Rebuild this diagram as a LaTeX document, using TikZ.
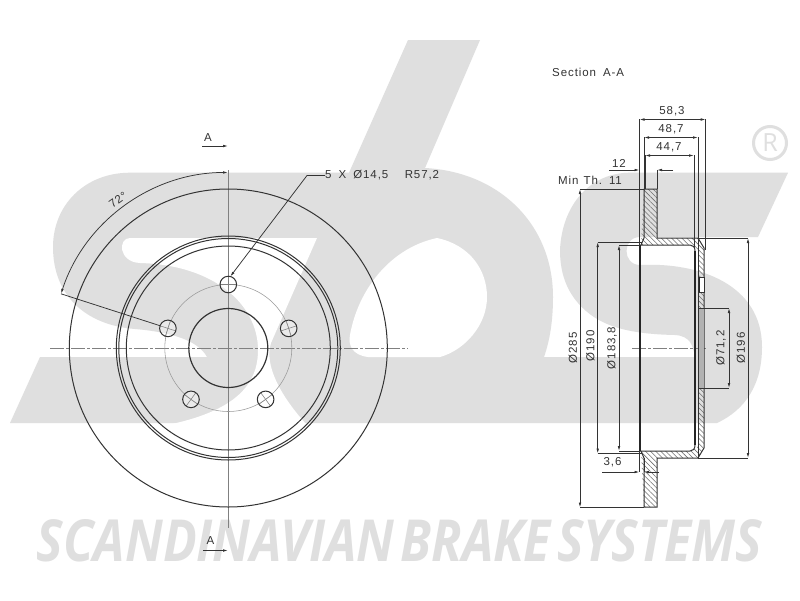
\documentclass[tikz,border=0pt]{standalone}
\usepackage{fontspec}
\setmainfont{Liberation Sans}
\newfontfamily\cad[LetterSpace=8]{Liberation Sans}
\newfontfamily\wm{Open Sans}
\usetikzlibrary{arrows.meta,patterns.meta,calc}
\definecolor{wmgray}{HTML}{DFDFDF}
\definecolor{ink}{HTML}{333333}
\definecolor{thin}{HTML}{808080}
\tikzset{
  lab/.style={font=\cad\fontsize{11.5}{12}\selectfont,text=ink,inner sep=0pt},
  dim/.style={draw=ink,line width=.75pt},
  dimboth/.style={dim,{Latex[length=5pt,width=2.6pt]}-{Latex[length=5pt,width=2.6pt]}},
  dimend/.style={dim,-{Latex[length=5pt,width=2.6pt]}},
  edge/.style={draw=ink,line width=1pt},
  heavy/.style={draw=black!85,line width=1.5pt},
  centre/.style={draw=thin,line width=.55pt},
  cdash/.style={draw=thin,line width=.7pt,dash pattern=on 14pt off 2pt on 3pt off 2pt},
  hatch/.style={pattern={Lines[angle=-45,distance=3.6pt,line width=.55pt]},pattern color=ink!70},
}
\begin{document}
\begin{tikzpicture}[x=1pt,y=-1pt]
\useasboundingbox (0,0) rectangle (800,600);
\fill[white] (0,0) rectangle (800,600);
% ---- watermark logo
\fill[wmgray] (10,423) -- (40,357) -- (207,357)
  .. controls (198,340) and (170,332) .. (135,329)
  .. controls (85,325) and (53,295) .. (53,247)
  .. controls (53,205) and (85,172.7) .. (130,172.7)
  -- (349,172.7) -- (408,40) -- (480,40) -- (425,168)
  .. controls (500,172) and (553,225) .. (553,297)
  .. controls (553,320) and (550,340) .. (544,357)
  -- (695,357) .. controls (693,345) and (690,336) .. (675,335)
  .. controls (625,334) and (597,325) .. (578,303)
  .. controls (565,288) and (560,270) .. (560,250)
  .. controls (562,205) and (590,172.7) .. (630,172.7)
  -- (788,172.7) -- (758,237) -- (640,237)
  .. controls (622,237) and (622,265) .. (640,265)
  .. controls (700,262) and (762,285) .. (762,347)
  .. controls (762,385) and (745,410) .. (717,423) -- cycle;
\fill[white] (130,238) -- (317,238) -- (271,343)
  .. controls (264,365) and (280,395) .. (306,424)
  -- (172,424) .. controls (235,410) and (258,385) .. (258,350)
  .. controls (258,305) and (215,265) .. (140,263)
  .. controls (118,262) and (118,238) .. (130,238) -- cycle;
\fill[white] (437,238) .. controls (470,245) and (487,270) .. (487,297)
  .. controls (487,325) and (465,350) .. (440,357)
  -- (368,357) .. controls (352,355) and (348,345) .. (350,335)
  .. controls (358,290) and (390,248) .. (437,238) -- cycle;
% registered mark
\node[circle,draw=wmgray,line width=3pt,minimum size=33pt,inner sep=0pt,
  font=\wm\fontsize{25}{25}\selectfont,text=wmgray] (reg) at (770,143) {R};
% brand line
\node[text=wmgray,inner sep=0pt] (brand) at (399.5,541)
  {\resizebox{725pt}{42pt}{\wm\bfseries\itshape SCANDINAVIAN\hspace{.12em}BRAKE\hspace{.12em}SYSTEMS}};

% ---- front view
\coordinate (c) at (228.3,348);
\draw[cdash] (50,348) -- (408,348);
\draw[centre] (228.3,170) -- (228.3,528);
\draw[edge] (c) circle[radius=159pt];
\draw[edge] (c) circle[radius=112pt];
\draw[edge] (c) circle[radius=109.5pt];
\draw[edge] (c) circle[radius=102pt];
\draw[edge,line width=1.2pt] (c) circle[radius=39.5pt];
\draw[centre,draw=thin!80] (c) circle[radius=63.5pt];
\begin{scope}[shift={(c)}]
\foreach \a/\n in {90/a,162/b,234/d,306/e,18/f}{
  \coordinate (bolt\n) at (\a:63.5pt);
  \fill[white,opacity=.35] (bolt\n) circle[radius=8.3pt];
  \draw[centre] ($(bolt\n)+(\a:8.3pt)$) -- ($(bolt\n)+(\a+180:8.3pt)$);
  \draw[centre] ($(bolt\n)+(\a+90:8.3pt)$) -- ($(bolt\n)+(\a+270:8.3pt)$);
  \draw[edge] (bolt\n) circle[radius=8.3pt];
}
\end{scope}
% 72 degree dimension
\coordinate (angA) at (61,293.8);
\draw[dim] (angA) -- ($(boltb)+(-8,-2.7)$);
\draw[dimboth] (angA) arc[start angle=162,end angle=90,radius=175.6pt];
\node[lab,rotate=36] (ang) at (118,200) {72°};
% bolt leader
\coordinate (knee) at (307,175.5);
\node[lab,anchor=west] (bolts) at (325,175.5) {5\hspace{7pt}X\hspace{7pt}Ø14,5\hspace{16.5pt}R57,2};
\draw[dimend] (bolts.west) -- (knee) -- ($(bolta)+(2,-8)$);
% section arrows
\node[lab] (aT) at (208,138) {A};
\coordinate (aTa) at (202,146); \coordinate (aTb) at (228,146);
\draw[dimend] (aTa) -- (aTb);
\node[lab] (aB) at (210.5,541) {A};
\coordinate (aBa) at (203,550.5); \coordinate (aBb) at (228,550.5);
\draw[dimend] (aBa) -- (aBb);

% ---- section view
\node[lab,anchor=west] (sec) at (552,72.5) {Section\hspace{7pt}A-A};
\draw[cdash] (632,348) -- (706,348);
% hatched metal
\path[hatch] (644,189) -- (657,189) -- (657,238) -- (698,238) -- (704,248) -- (704,308)
  -- (698,308) -- (698,250) -- (692,245) -- (641,245) -- cycle;
\path[hatch] (644,507) -- (657,507) -- (657,458) -- (698,458) -- (704,448) -- (704,388)
  -- (698,388) -- (698,446) -- (692,451) -- (641,451) -- cycle;
\draw[edge] (641,245) -- (644,238) -- (644,189) -- (657,189) -- (657,238) -- (698,238) -- (704,248) -- (704,448);
\draw[edge] (641,451) -- (644,458) -- (644,507) -- (657,507) -- (657,458) -- (698,458) -- (704,448);
\draw[edge] (640,245) -- (690,245) .. controls (693,245) and (695,247) .. (695,251);
\draw[edge] (640,451) -- (690,451) .. controls (693,451) and (695,449) .. (695,445);
\draw[heavy] (640,245) -- (640,451);
\draw[heavy] (695,251) -- (695,445);
\draw[edge] (698,238) -- (698,458);
\fill[black!30] (698.5,308) rectangle (703.5,388);
\draw[edge] (698,308) -- (704,308) (698,388) -- (704,388);
\draw[edge,fill=white] (699,277) rectangle (704,292);
\draw[heavy,line width=1pt] (699.5,277) -- (699.5,292);
% extension lines
\draw[dim] (639.5,119) -- (639.5,245);
\draw[dim] (705.7,119) -- (705.7,250);
\draw[dim] (644,137) -- (644,189);
\draw[dim] (698,137) -- (698,238);
\draw[dim] (645,155) -- (645,189);
\draw[dim] (694,155) -- (694,248);
\draw[dim] (657,170) -- (657,189);
\draw[dim] (639.5,451) -- (639.5,472);
\draw[dim] (644,458) -- (644,472);
% width dimensions
\draw[dimboth] (639.5,119.5) -- (705.7,119.5);
\draw[dimboth] (644,137.5) -- (698,137.5);
\draw[dimboth] (645,155.5) -- (694,155.5);
\node[lab] (w1) at (672,111) {58,3};
\node[lab] (w2) at (671,129) {48,7};
\node[lab] (w3) at (669,147) {44,7};
% 12
\coordinate (t1) at (609,170); \coordinate (t2) at (639.5,170);
\coordinate (t3) at (673,170); \coordinate (t4) at (657,170);
\draw[dimend] (t1) -- (t2);
\draw[dimend] (t3) -- (t4);
\node[lab] (twelve) at (619,163) {12};
\node[lab,anchor=west] (minth) at (558,180) {Min\hspace{5pt}Th.\hspace{7pt}11};
% 3,6
\coordinate (u1) at (602,472); \coordinate (u2) at (639.5,472);
\coordinate (u3) at (659,472); \coordinate (u4) at (644,472);
\draw[dimend] (u1) -- (u2);
\draw[dimend] (u3) -- (u4);
\node[lab] (tsix) at (612.5,462.5) {3,6};
% diameter dimensions
\draw[dim] (580,189) -- (644,189);
\draw[dim] (580,507.5) -- (644,507.5);
\draw[dimboth] (580,189) -- (580,507.5);
\node[lab,rotate=90] (d285) at (573,348) {Ø285};
\draw[dim] (597.7,242) -- (642,242);
\draw[dim] (597.7,453.5) -- (642,453.5);
\draw[dimboth] (597.7,242) -- (597.7,453.5);
\node[lab,rotate=90] (d190) at (590.5,346) {Ø190};
\draw[dim] (619,245) -- (640,245);
\draw[dim] (619,451) -- (640,451);
\draw[dimboth] (619,245) -- (619,451);
\node[lab,rotate=90] (d183) at (612,348) {Ø183,8};
\draw[dim] (700,308) -- (729,308);
\draw[dim] (700,388) -- (729,388);
\draw[dimboth] (729,308) -- (729,388);
\node[lab,rotate=90] (d71) at (721,348) {Ø71,2};
\draw[dim] (698,238) -- (748,238);
\draw[dim] (698,458) -- (748,458);
\draw[dimboth] (748,238) -- (748,458);
\node[lab,rotate=90] (d196) at (741,348) {Ø196};
\end{tikzpicture}
\end{document}
